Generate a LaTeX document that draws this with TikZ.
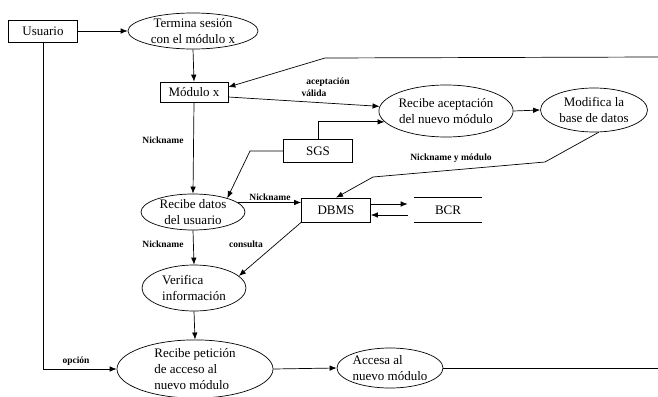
\documentclass[tikz,border=0pt]{standalone}
\usepackage{fontspec}
\setmainfont{Liberation Serif}
\usetikzlibrary{shapes.geometric,arrows.meta}

\begin{document}
\begin{tikzpicture}[x=1pt,y=-1pt,
  line width=0.7pt,
  every node/.style={font=\fontsize{13}{16}\selectfont},
  proc/.style={ellipse, draw, inner sep=0pt},
  ent/.style={rectangle, draw, inner sep=0pt},
  lbl/.style={font=\fontsize{9.5}{11}\selectfont\bfseries, inner sep=0pt},
  arr/.style={-{Latex[length=7pt,width=5.5pt]}}
]
\useasboundingbox (0,0) rectangle (658,396);

% external entities and stores
\node[ent, minimum width=69, minimum height=22] (usr) at (43,31) {Usuario};
\node[ent, minimum width=68, minimum height=20] (mod) at (194,92) {Módulo x};
\node[ent, minimum width=69, minimum height=23] (sgs) at (318,151) {SGS};
\node[ent, minimum width=69, minimum height=24] (dbms) at (336,210) {DBMS};
\node[minimum width=68, minimum height=24, inner sep=0pt] (bcr) at (448,210) {BCR};
\draw (bcr.north west) -- (bcr.north east);
\draw (bcr.south west) -- (bcr.south east);

% processes
\node[proc, minimum width=130, minimum height=36, align=center] (term) at (193,31)
  {Termina sesión\\con el módulo x};
\node[proc, minimum width=126, minimum height=52, align=center] (recA) at (446,111)
  {Recibe aceptación\\del nuevo módulo};
\node[proc, minimum width=107, minimum height=44, align=center] (modif) at (594,110)
  {Modifica la\\base de datos};
\node[proc, minimum width=104, minimum height=36, align=center] (recD) at (193,212)
  {Recibe datos\\del usuario};
\node[proc, minimum width=104, minimum height=46, align=left] (verif) at (194,288)
  {Verifica\\información};
\node[proc, minimum width=156, minimum height=54, align=left] (pet) at (195,369)
  {Recibe petición\\de acceso al\\nuevo módulo};
\node[proc, minimum width=106, minimum height=40, align=left] (acc) at (390,368)
  {Accesa al\\nuevo módulo};

% free ends and bends
\coordinate (topR) at (658,57);
\coordinate (topK) at (325,58);
\coordinate (sgsK) at (250,151);
\coordinate (modK1) at (545,162);
\coordinate (modK2) at (373,177);
\coordinate (accR) at (658,368);

% flows
\draw[arr] (usr.east) -- (term.west);
\draw[arr] (term.south) -- (mod.north);
\draw[arr] (topR) -- (topK) -- ([yshift=5]mod.east);
\draw[arr] ([yshift=-5]mod.east) -- (recA.176);
\draw[arr] (sgs.north) |- (recA.190);
\draw[arr] (recA.east) -- (modif.west);
\draw[arr] (sgs.west) -- (sgsK) -- (recD.22);
\draw[arr] (mod.south) -- (recD.north);
\draw[arr] (recD.12) -- (recD.12 -| dbms.west);
\draw[arr] (modif.282) -- (modK1) -- (modK2) -- (dbms.north);
\draw[arr] ([yshift=6]dbms.east) -- ([yshift=6,xshift=-6]bcr.west);
\draw[arr] ([yshift=-5,xshift=-6]bcr.west) -- ([yshift=-5]dbms.east);
\draw[arr] (recD.south) -- (verif.north);
\draw[arr] (dbms.south west) -- (verif.15);
\draw[arr] (verif.south) -- (pet.north);
\draw[arr] (usr.south) |- (pet.west);
\draw[arr] (pet.east) -- (acc.west);
\draw (acc.east) -- (accR);

% flow labels
\node[lbl] (l1) at (328,82) {aceptación};
\node[lbl] (l2) at (314,93) {válida};
\node[lbl] (l3) at (163,140) {Nickname};
\node[lbl] (l4) at (451,158) {Nickname y módulo};
\node[lbl] (l5) at (270,197) {Nickname};
\node[lbl] (l6) at (163,244) {Nickname};
\node[lbl] (l7) at (246,244) {consulta};
\node[lbl] (l8) at (76,361) {opción};
\end{tikzpicture}
\end{document}
